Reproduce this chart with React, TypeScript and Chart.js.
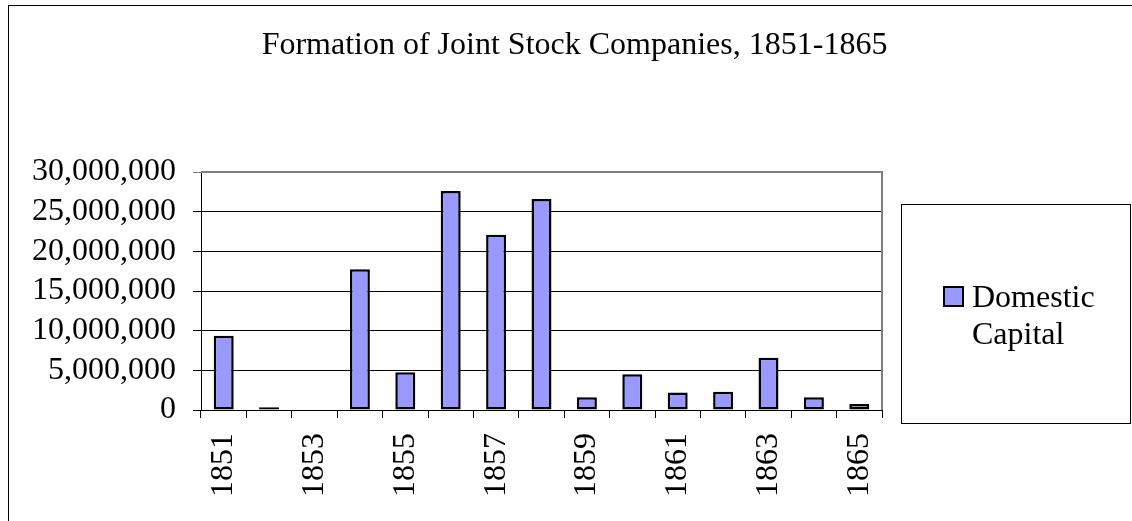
import React, { useEffect, useRef } from "react";
import { Chart, registerables } from "chart.js";

Chart.register(...registerables);

const TITLE = "Formation of Joint Stock Companies, 1851-1865";
const SERIES_LABEL = "Domestic Capital";
const YEARS = [
  "1851", "1852", "1853", "1854", "1855", "1856", "1857", "1858",
  "1859", "1860", "1861", "1862", "1863", "1864", "1865",
];
const DOMESTIC_CAPITAL = [
  9350000, 350000, 0, 17750000, 4750000, 27600000, 22100000, 26600000,
  1600000, 4500000, 2200000, 2300000, 6600000, 1600000, 750000,
];
const Y_MIN = 0;
const Y_MAX = 30000000;
const Y_STEP = 5000000;

const FONT_FAMILY = "'Liberation Serif', 'Times New Roman', serif";
const BAR_FILL = "#9999FF";

const decorPlugin = {
  id: "decor",
  beforeDraw(chart: any) {
    const ctx = chart.ctx;
    ctx.save();
    ctx.fillStyle = "#ffffff";
    ctx.fillRect(0, 0, chart.width, chart.height);
    ctx.strokeStyle = "#000000";
    ctx.lineWidth = 1;
    ctx.strokeRect(8.5, 5.5, chart.width + 40, chart.height + 40);
    ctx.fillStyle = "#000000";
    ctx.font = `32px ${FONT_FAMILY}`;
    ctx.textAlign = "center";
    ctx.textBaseline = "alphabetic";
    ctx.fillText(TITLE, 574.5, 54);
    ctx.restore();
  },
  beforeDatasetsDraw(chart: any) {
    const { ctx, chartArea } = chart;
    ctx.save();
    ctx.strokeStyle = "#808080";
    ctx.lineWidth = 2;
    ctx.beginPath();
    ctx.moveTo(chartArea.left, chartArea.top);
    ctx.lineTo(chartArea.right, chartArea.top);
    ctx.lineTo(chartArea.right, chartArea.bottom);
    ctx.stroke();
    ctx.restore();
  },
  afterDraw(chart: any) {
    const ctx = chart.ctx;
    const ds = chart.data.datasets[0];
    ctx.save();
    ctx.strokeStyle = "#000000";
    ctx.lineWidth = 1;
    ctx.strokeRect(901.5, 204.5, 229, 219);
    ctx.fillStyle = ds.backgroundColor;
    ctx.fillRect(943, 286, 21, 21);
    ctx.strokeStyle = "#000000";
    ctx.lineWidth = 2;
    ctx.strokeRect(944, 287, 19, 19);
    ctx.fillStyle = "#000000";
    ctx.font = `32px ${FONT_FAMILY}`;
    ctx.textAlign = "left";
    ctx.textBaseline = "alphabetic";
    const words = String(ds.label).split(" ");
    words.forEach((w: string, i: number) => {
      ctx.fillText(w, 972, 307 + i * 37);
    });
    ctx.restore();
  },
};

export default function App() {
  const canvasRef = useRef<HTMLCanvasElement | null>(null);

  useEffect(() => {
    const canvas = canvasRef.current;
    if (!canvas) return;
    const chart = new Chart(canvas, {
      type: "bar",
      data: {
        labels: YEARS,
        datasets: [
          {
            label: SERIES_LABEL,
            data: DOMESTIC_CAPITAL,
            backgroundColor: BAR_FILL,
            borderColor: "#000000",
            borderWidth: 2.5,
            borderSkipped: false,
            barPercentage: 0.44,
            categoryPercentage: 1,
          },
        ],
      },
      options: {
        responsive: false,
        animation: false,
        devicePixelRatio: 1,
        layout: { padding: { left: 0, top: 172, right: 250, bottom: 0 } },
        plugins: {
          legend: { display: false },
          title: { display: false },
          tooltip: { enabled: false },
        },
        scales: {
          x: {
            offset: true,
            grid: {
              offset: true,
              drawOnChartArea: false,
              drawTicks: true,
              tickLength: 8,
              color: "#000000",
              lineWidth: 1,
            },
            border: { color: "#000000", width: 1 },
            ticks: {
              autoSkip: false,
              maxRotation: 90,
              minRotation: 90,
              padding: 15,
              color: "#000000",
              font: { family: FONT_FAMILY, size: 32 },
              callback: function (this: any, value: any, index: number) {
                return index % 2 === 0 ? this.getLabelForValue(value) : "";
              },
            },
            afterFit(scale: any) {
              scale.height = 111;
            },
          },
          y: {
            min: Y_MIN,
            max: Y_MAX,
            grid: {
              drawOnChartArea: true,
              drawTicks: true,
              tickLength: 8,
              color: (c: any) =>
                c.tick && c.tick.value === Y_MAX ? "#808080" : "#000000",
              lineWidth: 1,
            },
            border: { color: "#000000", width: 1 },
            ticks: {
              autoSkip: false,
              stepSize: Y_STEP,
              padding: 17,
              color: "#000000",
              font: { family: FONT_FAMILY, size: 32 },
              callback: (v: any) => Number(v).toLocaleString("en-US"),
            },
            afterFit(scale: any) {
              scale.width = 201;
            },
          },
        },
      },
      plugins: [decorPlugin],
    });
    return () => chart.destroy();
  }, []);

  return (
    <div style={{ position: "absolute", left: 0, top: 0 }}>
      <canvas ref={canvasRef} width={1132} height={521} />
    </div>
  );
}
